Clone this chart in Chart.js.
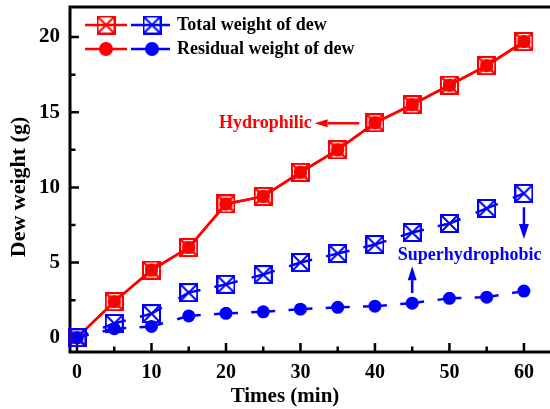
<!DOCTYPE html>
<html>
<head>
<meta charset="utf-8">
<script src="https://cdn.jsdelivr.net/npm/chart.js@4.4.1/dist/chart.umd.min.js"></script>
<style>
  html, body { margin: 0; padding: 0; background: #fff; }
  #wrap { width: 550px; height: 409px; }
</style>
</head>
<body>
<div id="wrap"><canvas id="dewChart" width="550" height="409"></canvas></div>
<script>
// data
const times = [0, 5, 10, 15, 20, 25, 30, 35, 40, 45, 50, 55, 60];
const hydroTotal = [0, 2.4, 4.5, 6.0, 8.9, 9.4, 11.0, 12.5, 14.3, 15.5, 16.8, 18.1, 19.7];
const hydroResidual = [0, 2.4, 4.5, 6.0, 8.9, 9.4, 11.0, 12.5, 14.3, 15.5, 16.8, 18.1, 19.7];
const superTotal = [0, 0.95, 1.6, 3.0, 3.55, 4.2, 5.0, 5.6, 6.2, 7.0, 7.6, 8.6, 9.6];
const superResidual = [0, 0.6, 0.75, 1.45, 1.62, 1.72, 1.9, 2.02, 2.1, 2.3, 2.62, 2.7, 3.1];

const xTicks = [0, 10, 20, 30, 40, 50, 60];
const xMinor = [5, 15, 25, 35, 45, 55];
const yTicks = [0, 5, 10, 15, 20];
const yMinor = [2.5, 7.5, 12.5, 17.5];

const RED = '#ff0000';
const BLUE = '#0000ff';
const SERIF = "'Liberation Serif', 'Times New Roman', serif";

function pts(arr) {
  return times.map((t, i) => ({ x: t, y: arr[i] }));
}

// hollow square with an X inside, used as point style
function boxCross(color, size, lw, inner) {
  const c = document.createElement('canvas');
  c.width = c.height = size;
  const g = c.getContext('2d');
  g.strokeStyle = color;
  g.lineWidth = lw;
  const h = lw / 2;
  g.strokeRect(h, h, size - lw, size - lw);
  g.beginPath();
  g.moveTo(h, h); g.lineTo(size - h, size - h);
  g.moveTo(size - h, h); g.lineTo(h, size - h);
  g.stroke();
  if (inner) {
    g.lineWidth = 1.2;
    g.strokeRect(4, 4, size - 8, size - 8);
  }
  return c;
}
const redBox = boxCross(RED, 19, 2, true);
const redBoxLegend = boxCross(RED, 19, 2, false);
const blueBox = boxCross(BLUE, 19, 2, false);

// dashes only near each end of a segment, like the original plot
function endDashes(ctx) {
  const len = Math.hypot(ctx.p1.x - ctx.p0.x, ctx.p1.y - ctx.p0.y);
  const d = 12;
  if (len <= 2 * d) return [];
  return [d, len - 2 * d, d, 1000 + ctx.p0DataIndex];
}

function arrow(ctx, x0, y0, x1, y1, color, headLen, headHalf) {
  const ang = Math.atan2(y1 - y0, x1 - x0);
  const bx = x1 - Math.cos(ang) * headLen;
  const by = y1 - Math.sin(ang) * headLen;
  ctx.strokeStyle = color;
  ctx.fillStyle = color;
  ctx.lineWidth = 2.5;
  ctx.beginPath(); ctx.moveTo(x0, y0); ctx.lineTo(bx, by); ctx.stroke();
  ctx.beginPath();
  ctx.moveTo(x1, y1);
  ctx.lineTo(bx + Math.sin(ang) * headHalf, by - Math.cos(ang) * headHalf);
  ctx.lineTo(bx - Math.sin(ang) * headHalf, by + Math.cos(ang) * headHalf);
  ctx.closePath();
  ctx.fill();
}

const decor = {
  id: 'decor',
  beforeDatasetsDraw(chart) {
    const { ctx, chartArea: a, scales: { x, y } } = chart;
    ctx.save();
    ctx.strokeStyle = '#000';
    ctx.lineWidth = 3;
    ctx.lineJoin = 'miter';
    ctx.beginPath();
    ctx.moveTo(chart.width, a.top);
    ctx.lineTo(a.left, a.top);
    ctx.lineTo(a.left, a.bottom);
    ctx.lineTo(chart.width, a.bottom);
    ctx.stroke();
    ctx.lineWidth = 2.5;
    ctx.beginPath();
    xTicks.forEach((v) => { const p = x.getPixelForValue(v); ctx.moveTo(p, a.bottom); ctx.lineTo(p, a.bottom - 9); });
    xMinor.forEach((v) => { const p = x.getPixelForValue(v); ctx.moveTo(p, a.bottom); ctx.lineTo(p, a.bottom - 5.5); });
    yTicks.forEach((v) => { const p = y.getPixelForValue(v); ctx.moveTo(a.left, p); ctx.lineTo(a.left + 9, p); });
    yMinor.forEach((v) => { const p = y.getPixelForValue(v); ctx.moveTo(a.left, p); ctx.lineTo(a.left + 5.5, p); });
    ctx.stroke();
    ctx.restore();
  },
  afterDraw(chart) {
    const { ctx, scales: { x, y } } = chart;
    ctx.save();

    // axis titles
    ctx.fillStyle = '#000';
    ctx.font = 'bold 21px ' + SERIF;
    ctx.textAlign = 'center';
    ctx.textBaseline = 'middle';
    ctx.fillText('Times (min)', 285, 397);
    ctx.save();
    ctx.translate(19, 187);
    ctx.rotate(-Math.PI / 2);
    ctx.font = 'bold 22px ' + SERIF;
    ctx.fillText('Dew weight (g)', 0, 0);
    ctx.restore();

    // legend
    ctx.lineWidth = 2.5;
    const rows = [25, 49];
    rows.forEach((ry, i) => {
      ctx.strokeStyle = RED;
      ctx.beginPath(); ctx.moveTo(85, ry); ctx.lineTo(127, ry); ctx.stroke();
      ctx.strokeStyle = BLUE;
      ctx.beginPath(); ctx.moveTo(131, ry); ctx.lineTo(170, ry); ctx.stroke();
      if (i === 0) {
        ctx.drawImage(redBoxLegend, 106 - 9.5, ry - 9.5);
        ctx.drawImage(blueBox, 152 - 9.5, ry - 9.5);
      } else {
        ctx.fillStyle = RED;
        ctx.beginPath(); ctx.arc(106, ry, 7, 0, Math.PI * 2); ctx.fill();
        ctx.fillStyle = BLUE;
        ctx.beginPath(); ctx.arc(152, ry, 7, 0, Math.PI * 2); ctx.fill();
      }
    });
    ctx.fillStyle = '#000';
    ctx.font = 'bold 18px ' + SERIF;
    ctx.textAlign = 'left';
    ctx.textBaseline = 'middle';
    ctx.fillText('Total weight of dew', 177, 25);
    ctx.fillText('Residual weight of dew', 177, 49);

    // annotations
    ctx.font = 'bold 18px ' + SERIF;
    ctx.fillStyle = RED;
    ctx.textAlign = 'right';
    ctx.fillText('Hydrophilic', x.getPixelForValue(31.5), y.getPixelForValue(14.27));
    arrow(ctx, x.getPixelForValue(37.9), y.getPixelForValue(14.27),
      x.getPixelForValue(31.9), y.getPixelForValue(14.27), RED, 13, 4);

    ctx.fillStyle = BLUE;
    ctx.textAlign = 'center';
    ctx.fillText('Superhydrophobic', x.getPixelForValue(52.7), y.getPixelForValue(5.48));
    arrow(ctx, x.getPixelForValue(45), y.getPixelForValue(2.97),
      x.getPixelForValue(45), y.getPixelForValue(4.76), BLUE, 14, 4.5);
    arrow(ctx, x.getPixelForValue(60), y.getPixelForValue(8.68),
      x.getPixelForValue(60), y.getPixelForValue(6.56), BLUE, 15, 5);

    ctx.restore();
  }
};

new Chart(document.getElementById('dewChart').getContext('2d'), {
  type: 'line',
  data: {
    datasets: [
      {
        label: 'Total weight of dew (hydrophilic)',
        data: pts(hydroTotal),
        borderColor: RED,
        borderWidth: 2.5,
        pointStyle: redBox,
        pointRadius: 9,
        clip: false,
        order: 3
      },
      {
        label: 'Residual weight of dew (hydrophilic)',
        data: pts(hydroResidual),
        borderColor: RED,
        borderWidth: 2.5,
        pointStyle: 'circle',
        pointRadius: 6.5,
        pointBorderWidth: 0,
        pointBackgroundColor: RED,
        clip: false,
        order: 2
      },
      {
        label: 'Total weight of dew (superhydrophobic)',
        data: pts(superTotal),
        borderColor: BLUE,
        borderWidth: 2.5,
        segment: { borderDash: endDashes },
        pointStyle: blueBox,
        pointRadius: 9,
        clip: false,
        order: 1
      },
      {
        label: 'Residual weight of dew (superhydrophobic)',
        data: pts(superResidual),
        borderColor: BLUE,
        borderWidth: 2.5,
        segment: { borderDash: endDashes },
        pointStyle: 'circle',
        pointRadius: 6.5,
        pointBorderWidth: 0,
        pointBackgroundColor: BLUE,
        clip: false,
        order: 0
      }
    ]
  },
  options: {
    responsive: false,
    animation: false,
    devicePixelRatio: 1,
    layout: { autoPadding: false, padding: { top: 7, right: 0, left: 0, bottom: 0 } },
    plugins: { legend: { display: false }, tooltip: { enabled: false } },
    elements: { line: { tension: 0 } },
    scales: {
      x: {
        type: 'linear',
        min: -0.94,
        max: 63.5,
        grid: { display: false, drawTicks: false },
        border: { display: false },
        ticks: { color: '#000', padding: 9, font: { family: SERIF, size: 20, weight: 'bold' } },
        afterBuildTicks: (s) => { s.ticks = xTicks.map((value) => ({ value })); },
        afterFit: (s) => { s.height = 57; s.paddingLeft = 0; s.paddingRight = 0; }
      },
      y: {
        type: 'linear',
        min: -0.95,
        max: 22,
        grid: { display: false, drawTicks: false },
        border: { display: false },
        ticks: { color: '#000', padding: 10, font: { family: SERIF, size: 21, weight: 'bold' } },
        afterBuildTicks: (s) => { s.ticks = yTicks.map((value) => ({ value })); },
        afterFit: (s) => { s.width = 70; s.paddingTop = 0; s.paddingBottom = 0; }
      }
    }
  },
  plugins: [decor]
});
</script>
</body>
</html>
